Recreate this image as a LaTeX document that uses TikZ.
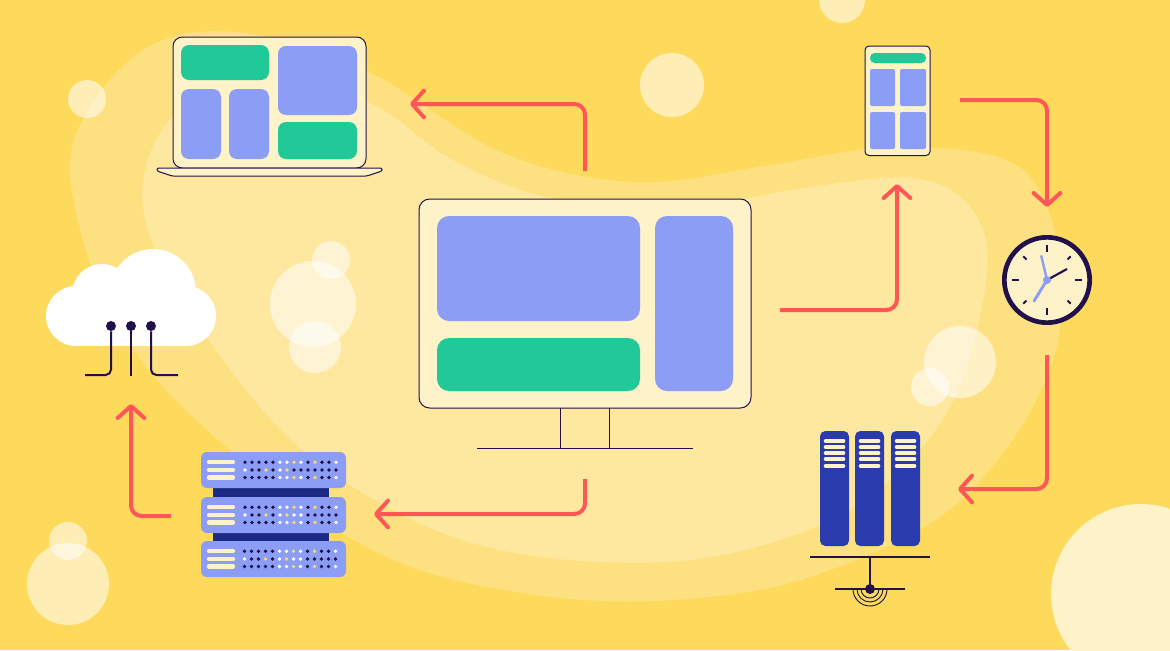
\documentclass[tikz,border=0pt]{standalone}
\usetikzlibrary{arrows.meta}
\definecolor{bgy}{HTML}{FDD95C}
\definecolor{blobA}{HTML}{FDE07F}
\definecolor{blobB}{HTML}{FEE89F}
\definecolor{cream}{HTML}{FEF2C9}
\definecolor{ink}{HTML}{21104A}
\definecolor{peri}{HTML}{8B9DF5}
\definecolor{mint}{HTML}{20C997}
\definecolor{navy}{HTML}{2A3BAE}
\definecolor{deep}{HTML}{1C2A85}
\definecolor{coral}{HTML}{FF5757}
\tikzset{
  x=0.75pt,y=-0.75pt,
  flow/.style={draw=coral,line width=3pt,rounded corners=8pt,-{Straight Barb[round,length=9pt,width=20pt,line width=3pt]}},
  frame/.style={draw=ink,line width=0.75pt,fill=cream},
  bp/.style={fill=peri,rounded corners=6pt},
  gp/.style={fill=mint,rounded corners=6pt},
  wire/.style={draw=ink,line width=0.75pt},
  wireb/.style={draw=ink,line width=1.5pt},
  bubble/.style={fill=white,fill opacity=0.55},
  slit/.style={draw=cream,line width=2.7pt,line cap=round},
  bar/.style={draw=cream,line width=3.2pt,line cap=round},
  rackbar/.style={fill=navy,rounded corners=4pt},
}
% \bx{name}{x1}{y1}{x2}{y2}{style}
\newcommand\bx[6]{%
  \pgfmathsetmacro\bxw{(#4-#2)*0.75}\pgfmathsetmacro\bxh{(#5-#3)*0.75}%
  \pgfmathsetmacro\bxx{(#2+#4)/2}\pgfmathsetmacro\bxy{(#3+#5)/2}%
  \node[#6,inner sep=0pt,outer sep=0pt,minimum width=\bxw pt,minimum height=\bxh pt] (#1) at (\bxx,\bxy) {};}
\newcommand\dotrow[3]{% y, start x, colours
  \foreach \c [count=\i from 0] in {#3}{\fill[\c] ({#2+7.0*\i},{#1}) circle[radius=1.9];}}
\newcommand\unit[4]{% name, top y, start x, two colours of the middle row
  \bx{#1}{201}{#2}{346}{#2+36}{bp,rounded corners=4.5pt}
  \draw[bar] (209,{#2+10.3})--(233,{#2+10.3});
  \draw[bar] (209,{#2+18})--(233,{#2+18});
  \draw[bar] (209,{#2+25.5})--(233,{#2+25.5});
  \dotrow{#2+10.3}{#3}{ink,ink,ink,ink,ink,white,white,bgy,white,ink,bgy,ink,ink,white}
  \dotrow{#2+18}{#3}{white,ink,ink,bgy,ink,white,bgy,#4,ink,ink,ink,ink,ink}
  \dotrow{#2+25.5}{#3}{ink,ink,ink,ink,ink,white,white,bgy,white,ink,bgy,ink,ink,white}
}
\newcommand\rackbar[2]{% name, left x
  \bx{#1}{#2}{431}{#2+29}{546}{rackbar}
  \foreach \yy in {441,447,453,459,466}{\draw[slit] ({#2+5.5},\yy)--({#2+23.5},\yy);}
}
\begin{document}
\begin{tikzpicture}
\useasboundingbox (0,0) rectangle (1170,650);
\fill[bgy] (0,0) rectangle (1170,650);
% blobs
\fill[blobA] plot[smooth cycle,tension=0.6] coordinates {(140,52) (235,32) (365,70) (503,153) (637,182) (770,165) (900,147) (1023,170) (1062,280) (1040,393) (953,507) (822,573) (700,598) (560,598) (411,567) (300,505) (193,417) (125,337) (82,237) (74,140)};
\fill[blobB] plot[smooth cycle,tension=0.6] coordinates {(144,175) (163,267) (260,407) (347,483) (465,541) (600,562) (733,553) (860,503) (950,407) (987,273) (970,207) (913,178) (803,188) (680,208) (550,198) (453,160) (370,103) (280,85) (190,100)};
% bubbles
\fill[bubble] (87,99) circle[radius=19];
\fill[bubble] (672,85) circle[radius=32];
\fill[bubble] (842,0) circle[radius=23];
\fill[bubble] (313,304) circle[radius=43];
\fill[bubble] (331,260) circle[radius=19];
\fill[bubble] (315,347) circle[radius=26];
\fill[bubble] (960,362) circle[radius=36];
\fill[bubble] (930,387) circle[radius=19];
\fill[bubble] (68,584) circle[radius=41];
\fill[bubble] (68,541) circle[radius=19];
\fill[cream] (1141,594) circle[radius=90];
% laptop
\bx{laptop}{173}{37}{366}{168}{frame,rounded corners=7pt}
\draw[frame,rounded corners=1pt] (157,168) -- (382,168) -- (382,171) -- (367,176) -- (172,176) -- (157,171) -- cycle;
\bx{lg1}{181}{45}{269}{80}{gp}
\bx{lb1}{181}{89}{221}{159}{bp}
\bx{lb2}{229}{89}{269}{159}{bp}
\bx{lb3}{278}{46}{357}{115}{bp}
\bx{lg2}{278}{122}{357}{159}{gp}
% phone
\bx{phone}{865}{46}{930}{155.5}{frame,rounded corners=3pt}
\bx{pg}{870}{53}{926}{63}{gp,rounded corners=3.5pt}
\bx{pb1}{870}{69}{895}{106}{bp,rounded corners=1.5pt}
\bx{pb2}{900}{69}{926}{106}{bp,rounded corners=1.5pt}
\bx{pb3}{870}{112}{895}{149}{bp,rounded corners=1.5pt}
\bx{pb4}{900}{112}{926}{149}{bp,rounded corners=1.5pt}
% monitor
\bx{neck}{560}{400}{609}{448}{wire}
\coordinate (baseL) at (477,448);
\coordinate (baseR) at (693,448);
\draw[wire] (baseL) -- (baseR);
\bx{monitor}{419}{199}{751}{408}{frame,rounded corners=8pt}
\bx{mb1}{437}{216}{640}{321}{bp,rounded corners=9pt}
\bx{mb2}{655}{216}{733}{391}{bp,rounded corners=9pt}
\bx{mg}{437}{338}{640}{391}{gp,rounded corners=9pt}
% clock
\node[circle,draw=ink,line width=3.5pt,fill=cream,minimum size=64pt,inner sep=0pt] (clock) at (1047,280) {};
\foreach \a in {0,90,180,270}{\draw[ink,line width=1.4pt] (clock.center) ++(\a:28) -- ++(\a:7);}
\foreach \a in {45,135,225,315}{\draw[ink,line width=1.4pt] (clock.center) ++(\a:29) -- ++(\a:4.5);}
\draw[ink,line width=1.6pt] (clock.center) -- ++(20,-11);
\draw[peri,line width=1.8pt,line cap=round] (clock.center) -- ++(-5.7,-24);
\draw[peri,line width=2.2pt,line cap=round] (clock.center) -- ++(-13,21);
\fill[peri] (clock.center) circle[radius=4];
% rack
\rackbar{ra}{820}
\rackbar{rb}{855}
\rackbar{rc}{891}
\coordinate (shelfL) at (810,557);
\coordinate (shelfR) at (930,557);
\coordinate (shelfM) at (870,557);
\coordinate (gndL) at (835,589);
\coordinate (gndR) at (905,589);
\draw[wireb] (shelfL) -- (shelfR);
\draw[wireb] (gndL) -- (gndR);
\node[circle,fill=ink,minimum size=7.5pt,inner sep=0pt] (gnd) at (870,589) {};
\draw[wireb] (shelfM) -- (gnd);
\foreach \r in {9,13,17}{\draw[ink,line width=0.7pt] ({870-\r},589) arc[start angle=180,end angle=0,radius=\r];}
% servers
\bx{linka}{213}{486}{329}{499}{fill=deep}
\bx{linkb}{213}{531}{329}{543}{fill=deep}
\unit{sa}{452}{245}{ink,ink}
\unit{sb}{497}{245}{white,white}
\unit{sc}{541}{244.5}{white,white}
% cloud
\fill[white] (76,316) circle[radius=30];
\fill[white] (186,316) circle[radius=30];
\fill[white] (153,292) circle[radius=43];
\fill[white] (102,294) circle[radius=30];
\fill[white] (76,300) rectangle (186,346);
\node[circle,fill=ink,minimum size=7.5pt,inner sep=0pt] (da) at (111,326) {};
\node[circle,fill=ink,minimum size=7.5pt,inner sep=0pt] (db) at (131,326) {};
\node[circle,fill=ink,minimum size=7.5pt,inner sep=0pt] (dc) at (151,326) {};
\coordinate (ca) at (85,375);
\coordinate (cb) at (131,376);
\coordinate (cc) at (178,375);
\draw[wireb,rounded corners=4pt] (da) -- (111,375) -- (ca);
\draw[wireb] (db) -- (cb);
\draw[wireb,rounded corners=4pt] (dc) -- (151,375) -- (cc);
% connectors
\coordinate (a1s) at (585,171); \coordinate (a1e) at (410,104);
\coordinate (a2s) at (780,310); \coordinate (a2e) at (897,184);
\coordinate (a3s) at (960,100); \coordinate (a3e) at (1047,207);
\coordinate (a4s) at (1047,355); \coordinate (a4e) at (958,489);
\coordinate (a5s) at (585,479); \coordinate (a5e) at (374,514);
\coordinate (a6s) at (171,516); \coordinate (a6e) at (131,404);
\draw[flow] (a1s) |- (a1e);
\draw[flow] (a2s) -| (a2e);
\draw[flow] (a3s) -| (a3e);
\draw[flow] (a4s) |- (a4e);
\draw[flow] (a5s) |- (a5e);
\draw[flow] (a6s) -| (a6e);
\end{tikzpicture}
\end{document}
